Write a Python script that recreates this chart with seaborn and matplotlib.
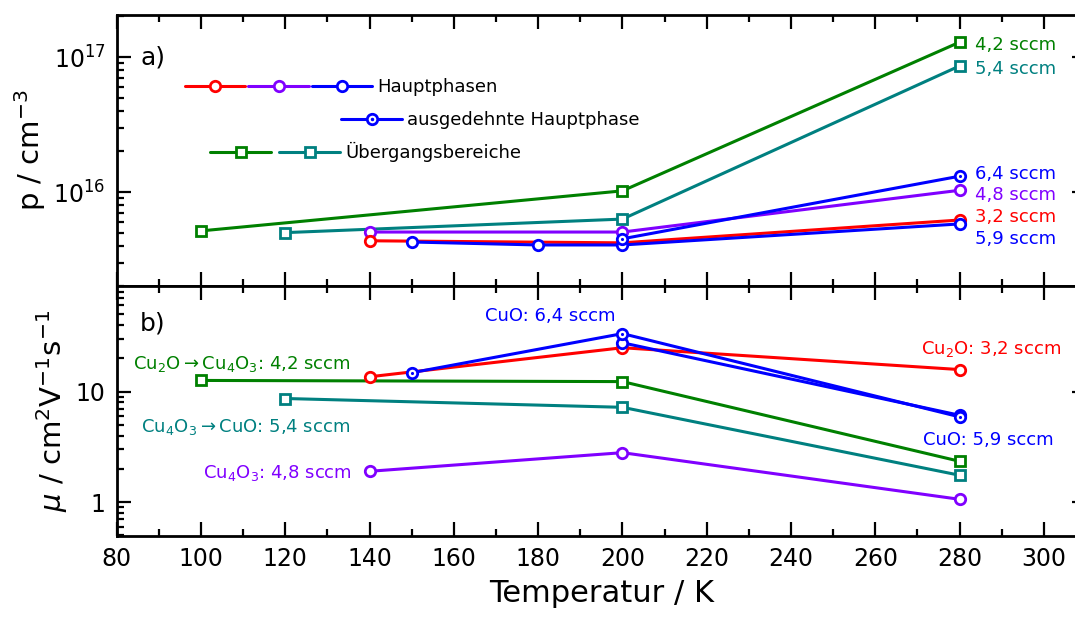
import matplotlib
matplotlib.use("Agg")
import matplotlib.pyplot as plt
import seaborn as sns
from matplotlib.lines import Line2D
from matplotlib.legend_handler import HandlerTuple
from matplotlib.ticker import MultipleLocator, LogLocator, FixedLocator, FixedFormatter, NullFormatter

sns.set_style("ticks", {"axes.edgecolor": "black", "text.color": "black",
                        "xtick.color": "black", "ytick.color": "black",
                        "axes.labelcolor": "black"})
plt.rcParams["font.family"] = ["DejaVu Sans"]
plt.rcParams["mathtext.fontset"] = "dejavusans"
plt.rcParams["mathtext.default"] = "regular"

# --- data ------------------------------------------------------------------
# a) hole density p / cm^-3
T_p_red = [140, 200, 280]            # Cu2O, 3,2 sccm
p_red = [4.35e15, 4.2e15, 6.2e15]
T_p_purple = [140, 200, 280]         # Cu4O3, 4,8 sccm
p_purple = [5.05e15, 5.05e15, 1.03e16]
T_p_blue = [150, 180, 200, 280]      # CuO, 5,9 sccm
p_blue = [4.26e15, 4.05e15, 4.05e15, 5.8e15]
T_p_blue2 = [200, 280]               # CuO, 6,4 sccm (ausgedehnte Hauptphase)
p_blue2 = [4.5e15, 1.31e16]
T_p_green = [100, 200, 280]          # 4,2 sccm
p_green = [5.15e15, 1.02e16, 1.29e17]
T_p_teal = [120, 200, 280]           # 5,4 sccm
p_teal = [5.0e15, 6.3e15, 8.6e16]

# b) mobility mu / cm^2 V^-1 s^-1
T_mu_red = [140, 200, 280]
mu_red = [13.6, 24.9, 15.8]
T_mu_purple = [140, 200, 280]
mu_purple = [1.9, 2.8, 1.06]
T_mu_blue = [200, 280]
mu_blue = [27.6, 6.1]
T_mu_blue2 = [150, 200, 280]
mu_blue2 = [14.8, 33.4, 5.9]
T_mu_green = [100, 200, 280]
mu_green = [12.6, 12.3, 2.34]
T_mu_teal = [120, 200, 280]
mu_teal = [8.65, 7.2, 1.75]

RED, PURPLE, BLUE, GREEN, TEAL = "#ff0000", "#8000ff", "#0000ff", "#008000", "#008080"
LW, MS, MEW = 2.2, 7.5, 2.0

fig = plt.figure(figsize=(10.75, 6.26), dpi=100)
ax1 = fig.add_axes([0.1086, 0.5431, 0.9017, 0.4329])
ax2 = fig.add_axes([0.1086, 0.1438, 0.9017, 0.3993], sharex=ax1)


def series(ax, x, y, color, marker, dot=False):
    ms = MS if marker == "o" else 6.5
    sns.lineplot(x=x, y=y, ax=ax, color=color, marker=marker, markersize=ms,
                 markerfacecolor="white", markeredgecolor=color,
                 markeredgewidth=MEW, linewidth=LW, legend=False)
    if dot:
        sns.scatterplot(x=x, y=y, ax=ax, color=color, s=5, linewidth=0,
                        zorder=5, legend=False)


series(ax1, T_p_green, p_green, GREEN, "s")
series(ax1, T_p_teal, p_teal, TEAL, "s")
series(ax1, T_p_purple, p_purple, PURPLE, "o")
series(ax1, T_p_red, p_red, RED, "o")
series(ax1, T_p_blue, p_blue, BLUE, "o")
series(ax1, T_p_blue2, p_blue2, BLUE, "o", dot=True)

series(ax2, T_mu_green, mu_green, GREEN, "s")
series(ax2, T_mu_teal, mu_teal, TEAL, "s")
series(ax2, T_mu_purple, mu_purple, PURPLE, "o")
series(ax2, T_mu_red, mu_red, RED, "o")
series(ax2, T_mu_blue, mu_blue, BLUE, "o")
series(ax2, T_mu_blue2, mu_blue2, BLUE, "o", dot=True)

for ax in (ax1, ax2):
    ax.set_yscale("log")
    ax.set_xlim(80, 310)
    ax.xaxis.set_major_locator(MultipleLocator(20))
    ax.xaxis.set_minor_locator(MultipleLocator(10))
    ax.tick_params(which="both", direction="in", top=True, right=True, width=1.6,
                   labelsize=17, pad=8, colors="black")
    ax.tick_params(which="major", length=10)
    ax.tick_params(which="minor", length=5)
    for s in ax.spines.values():
        s.set_linewidth(2.0)
        s.set_color("black")
        s.set_visible(True)

ax1.set_ylim(2.01e15, 2.05e17)
ax1.yaxis.set_major_locator(LogLocator(base=10))
ax1.yaxis.set_minor_locator(LogLocator(base=10, subs=range(2, 10)))
ax1.yaxis.set_minor_formatter(NullFormatter())
ax1.tick_params(axis="x", labelbottom=False)
ax1.set_xlabel("")
ax1.set_ylabel("p / cm$^{-3}$", fontsize=21, labelpad=4)

ax2.set_ylim(0.494, 90)
ax2.yaxis.set_major_locator(FixedLocator([1, 10]))
ax2.yaxis.set_major_formatter(FixedFormatter(["1", "10"]))
ax2.yaxis.set_minor_locator(LogLocator(base=10, subs=range(2, 10)))
ax2.yaxis.set_minor_formatter(NullFormatter())
ax2.set_xlabel("Temperatur / K", fontsize=22, labelpad=6)
ax2.set_ylabel(r"$\mathit{\mu}$ / cm$^{2}$V$^{-1}$s$^{-1}$", fontsize=21, labelpad=4)
fig.align_ylabels([ax1, ax2])

ax1.text(0.024, 0.845, "a)", transform=ax1.transAxes, fontsize=18, va="center")
ax2.text(0.024, 0.849, "b)", transform=ax2.transAxes, fontsize=18, va="center")

# right-hand labels in panel a)
fs = 13
for yv, txt, c in [(1.23e17, "4,2 sccm", GREEN), (8.14e16, "5,4 sccm", TEAL),
                   (1.36e16, "6,4 sccm", BLUE), (9.5e15, "4,8 sccm", PURPLE),
                   (6.53e15, "3,2 sccm", RED), (4.49e15, "5,9 sccm", BLUE)]:
    ax1.text(283.7, yv, txt, color=c, fontsize=fs, ha="left", va="center")

# labels in panel b)
ax2.text(182.9, 48.4, "CuO: 6,4 sccm", color=BLUE, fontsize=fs, ha="center", va="center")
ax2.text(287.5, 24.4, "Cu$_2$O: 3,2 sccm", color=RED, fontsize=fs, ha="center", va="center")
ax2.text(286.7, 3.62, "CuO: 5,9 sccm", color=BLUE, fontsize=fs, ha="center", va="center")
ax2.text(109.7, 17.9, r"Cu$_2$O$\rightarrow$Cu$_4$O$_3$: 4,2 sccm", color=GREEN,
         fontsize=fs, ha="center", va="center")
ax2.text(110.6, 4.74, r"Cu$_4$O$_3$$\rightarrow$CuO: 5,4 sccm", color=TEAL,
         fontsize=fs, ha="center", va="center")
ax2.text(135.8, 1.85, "Cu$_4$O$_3$: 4,8 sccm", color=PURPLE, fontsize=fs,
         ha="right", va="center")

# staggered legend rows
def handle(c, m, ms):
    return Line2D([], [], color=c, marker=m, markersize=ms, markerfacecolor="white",
                  markeredgecolor=c, markeredgewidth=MEW, linewidth=LW)


dot_h = Line2D([], [], color=BLUE, marker=".", markersize=3, linestyle="none")
rows = [
    ((handle(RED, "o", MS), handle(PURPLE, "o", MS), handle(BLUE, "o", MS)),
     "Hauptphasen", (0.0705, 0.734), 10.35, 0.17),
    ((handle(BLUE, "o", MS), dot_h), "ausgedehnte Hauptphase", (0.2314, 0.6125), 3.4, None),
    ((handle(GREEN, "s", 6.5), handle(TEAL, "s", 6.5)),
     "Übergangsbereiche", (0.0963, 0.4945), 7.2, 0.45),
]
for h, lab, anchor, hl, pad in rows:
    if pad is None:
        hmap = {tuple: HandlerTuple(ndivide=1)}
    else:
        hmap = {tuple: HandlerTuple(ndivide=None, pad=pad)}
    leg = ax1.legend([h], [lab], loc="center left", bbox_to_anchor=anchor,
                     bbox_transform=ax1.transAxes, frameon=False, fontsize=fs,
                     handlelength=hl, handletextpad=0.28, borderpad=0,
                     borderaxespad=0, handler_map=hmap, numpoints=1)
    for t in leg.get_texts():
        t.set_color("black")
    ax1.add_artist(leg)
ax1.legend_ = None  # rows are already attached as artists; avoid drawing the last twice

fig.savefig("out.png", dpi=100)
